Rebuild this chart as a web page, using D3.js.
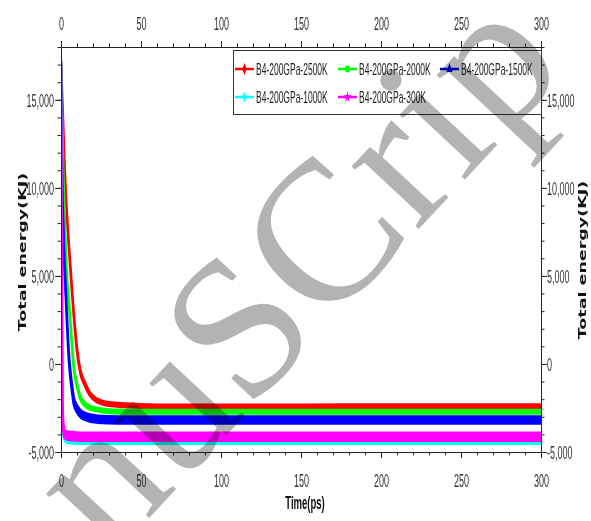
<!DOCTYPE html>
<html>
<head>
<meta charset="utf-8">
<script src="https://cdn.jsdelivr.net/npm/d3@7"></script>
<style>
  body { margin: 0; background: #fff; }
  svg { display: block; }
</style>
</head>
<body>
<div id="chart"></div>
<script>
// series (drawn in this order, last one on top)
const seriesNames = ["B4-200GPa-2500K", "B4-200GPa-2000K", "B4-200GPa-1500K", "B4-200GPa-1000K", "B4-200GPa-300K"];
const seriesColors = ["#ff0000", "#00ff00", "#0000ff", "#00ffff", "#ff00ff"];

// time in ps
const time = [0, 0.5, 1, 1.5, 2, 3, 4, 5, 6, 7, 8, 10, 12, 15, 18, 22, 26, 30, 40, 50, 70, 100, 150, 200, 250, 300];

// total energy in KJ
const e2500 = [17000, 15800, 14500, 13200, 11800, 9600, 8000, 6600, 5300, 4000, 2800, 800, -400, -1150, -1700, -2050, -2200, -2280, -2350, -2390, -2420, -2420, -2410, -2400, -2400, -2400];
const e2000 = [17000, 14800, 12500, 10500, 9000, 6500, 4500, 3400, 2200, 900, -200, -1200, -1900, -2300, -2480, -2580, -2640, -2680, -2710, -2720, -2720, -2720, -2720, -2720, -2720, -2720];
const e1500 = [17000, 12000, 9000, 7500, 6000, 4000, 2000, 300, -700, -1450, -2100, -2550, -2800, -2980, -3070, -3120, -3150, -3170, -3180, -3180, -3180, -3180, -3180, -3180, -3180, -3180];
const e1000 = [16500, 5000, -2800, -3900, -4200, -4350, -4400, -4420, -4430, -4440, -4450, -4450, -4450, -4450, -4450, -4450, -4450, -4450, -4450, -4450, -4450, -4450, -4450, -4450, -4450, -4450];
const e300 = [16500, 6000, -2500, -3600, -3900, -4030, -4060, -4080, -4090, -4100, -4110, -4120, -4130, -4130, -4130, -4130, -4130, -4130, -4130, -4130, -4130, -4130, -4130, -4130, -4130, -4130];
const energies = [e2500, e2000, e1500, e1000, e300];

// half width of the noisy band on the plateau, KJ
const noise = [100, 100, 200, 80, 230];

const xTicks = [0, 50, 100, 150, 200, 250, 300];
const xMinor = d3.range(0, 301, 10);
const yTicks = [-5000, 0, 5000, 10000, 15000];
const yMinor = d3.range(-5000, 18001, 1000);

const W = 591, H = 521;
const plotLeft = 61, plotRight = 541, plotTop = 47, plotBottom = 452;
const axisColor = "#222";
const labelColor = "#333";
const squeeze = 0.5; // the picture is narrow, so glyphs are drawn squeezed

const x = d3.scaleLinear().domain([0, 300]).range([plotLeft, plotRight]);
const y = d3.scaleLinear().domain([-5000, 18000]).range([plotBottom, plotTop]);

const svg = d3.select("#chart").append("svg")
  .attr("width", W)
  .attr("height", H);

svg.append("defs").append("clipPath").attr("id", "plot")
  .append("rect")
  .attr("x", plotLeft).attr("y", plotTop)
  .attr("width", plotRight - plotLeft).attr("height", plotBottom - plotTop);

// bands
const band = d3.area()
  .x(d => x(d.t))
  .y0(d => y(d.e - d.n))
  .y1(d => y(d.e + d.n))
  .curve(d3.curveMonotoneX);

const plot = svg.append("g").attr("clip-path", "url(#plot)");
energies.forEach((vals, i) => {
  const data = time.map((t, k) => ({ t: t, e: vals[k], n: noise[i] }));
  plot.append("path")
    .datum(data)
    .attr("d", band)
    .attr("fill", seriesColors[i])
    .attr("stroke", seriesColors[i])
    .attr("stroke-width", 2.5)
    .attr("stroke-linejoin", "round");
});

// axes
const fmt = d => d3.format(",")(d).replace("\u2212", "-");

function styleAxis(g) {
  g.selectAll("path, line").attr("stroke", axisColor);
  g.selectAll("text")
    .attr("fill", labelColor)
    .style("font-family", "'Liberation Sans', Arial, sans-serif")
    .style("font-size", "18px");
}

function addAxis(axisFn, scale, major, minor, pos, labelOpts) {
  const gMinor = svg.append("g").attr("transform", pos)
    .call(axisFn(scale).tickValues(minor).tickSize(3.5).tickFormat(""));
  gMinor.select(".domain").remove();
  gMinor.selectAll("line").attr("stroke", axisColor);
  const g = svg.append("g").attr("transform", pos)
    .call(axisFn(scale).tickValues(major).tickSize(6).tickSizeOuter(0).tickFormat(labelOpts.format));
  styleAxis(g);
  g.selectAll("text").each(function () {
    d3.select(this)
      .attr("x", labelOpts.x).attr("y", labelOpts.y).attr("dy", labelOpts.dy)
      .attr("transform", "scale(" + squeeze + ",1)");
  });
}

addAxis(d3.axisBottom, x, xTicks, xMinor, "translate(0," + plotBottom + ")", { format: d3.format("d"), x: 0, y: 35, dy: 0 });
addAxis(d3.axisTop, x, xTicks, xMinor, "translate(0," + plotTop + ")", { format: d3.format("d"), x: 0, y: -17, dy: 0 });
addAxis(d3.axisLeft, y, yTicks, yMinor, "translate(" + plotLeft + ",0)", { format: fmt, x: -14, y: 0, dy: "0.35em" });
addAxis(d3.axisRight, y, yTicks, yMinor, "translate(" + plotRight + ",0)", { format: fmt, x: 12, y: 0, dy: "0.35em" });

// axis titles
svg.append("text")
  .attr("transform", "translate(305,509) scale(" + squeeze + ",1)")
  .attr("text-anchor", "middle")
  .attr("fill", "#111")
  .style("font-family", "'Liberation Sans', Arial, sans-serif")
  .style("font-weight", "bold")
  .style("font-size", "19px")
  .text("Time(ps)");

[[22, 252], [582, 260]].forEach(p => {
  svg.append("text")
    .attr("transform", "translate(" + p[0] + "," + p[1] + ") scale(0.62,1) rotate(-90)")
    .attr("text-anchor", "middle")
    .attr("dy", "0.36em")
    .attr("fill", "#111")
    .style("font-family", "'DejaVu Sans', Verdana, sans-serif")
    .style("font-weight", "bold")
    .style("font-size", "17.5px")
    .text("Total energy(KJ)");
});

// legend
const legend = svg.append("g");
legend.append("rect")
  .attr("x", 233.5).attr("y", 50.5)
  .attr("width", 308).attr("height", 64)
  .attr("fill", "#fff")
  .attr("stroke", "#333");

const legendCol = [235, 338, 440];
const legendRow = [69, 97];
const legendPos = [[0, 0], [1, 0], [2, 0], [0, 1], [1, 1]];
const legendSymbols = [d3.symbolDiamond, d3.symbolSquare, d3.symbolTriangle, d3.symbolCross, d3.symbolStar];

seriesNames.forEach((name, i) => {
  const lx = legendCol[legendPos[i][0]];
  const ly = legendRow[legendPos[i][1]];
  const item = legend.append("g");
  item.append("line")
    .attr("x1", lx).attr("x2", lx + 19)
    .attr("y1", ly).attr("y2", ly)
    .attr("stroke", seriesColors[i])
    .attr("stroke-width", 2.5);
  item.append("path")
    .attr("d", d3.symbol().type(legendSymbols[i]).size(45))
    .attr("transform", "translate(" + (lx + 9.5) + "," + ly + ") scale(0.6,1)")
    .attr("fill", seriesColors[i]);
  item.append("text")
    .attr("transform", "translate(" + (lx + 21) + "," + ly + ") scale(" + squeeze + ",1)")
    .attr("dy", "0.35em")
    .attr("fill", "#222")
    .style("font-family", "'Liberation Sans', Arial, sans-serif")
    .style("font-size", "17px")
    .text(name);
});

// watermark laid over the whole figure
svg.append("text")
  .attr("transform", "translate(110,560) rotate(-47)")
  .attr("fill", "#b3b3b3")
  .style("mix-blend-mode", "multiply")
  .style("font-family", "'Liberation Serif', 'DejaVu Serif', serif")
  .style("font-size", "200px")
  .style("letter-spacing", "1px")
  .text("nuSCrip");
</script>
</body>
</html>
